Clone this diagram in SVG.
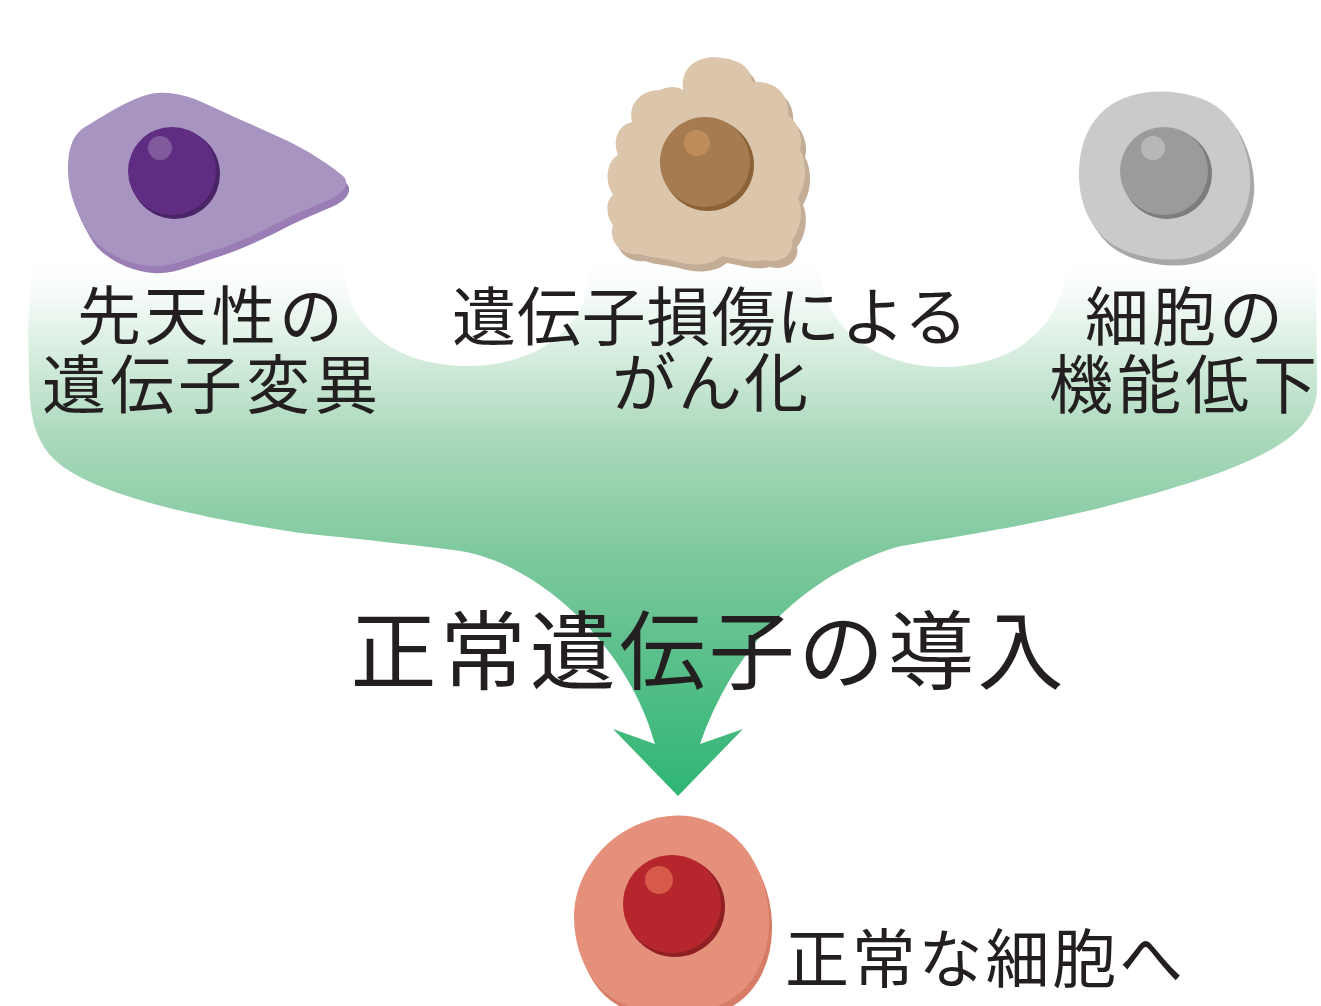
<svg xmlns="http://www.w3.org/2000/svg" width="1321" height="1006" viewBox="0 0 1321 1006">
  <style>
    .lbl { font-family: "Noto Sans CJK JP", "Noto Sans", sans-serif; fill: #231f20; text-anchor: middle; }
    .sm { font-size: 64px; }
    .big { font-size: 86px; }
  </style>
  <defs>
    <linearGradient id="flow" gradientUnits="userSpaceOnUse" x1="0" y1="262" x2="0" y2="796">
      <stop offset="0" stop-color="#ffffff"/>
      <stop offset="0.06" stop-color="#f6fbf8"/>
      <stop offset="0.33" stop-color="#aad9bb"/>
      <stop offset="0.55" stop-color="#7dc89d"/>
      <stop offset="1" stop-color="#2eb573"/>
    </linearGradient>
    <path id="purple-body" d="M157,93 C175,91 195,98 215,108 C240,120 265,130 290,142 C310,152 330,165 343,176 C350,182 345,192 333,198 C315,206 295,214 280,222 C260,232 235,244 215,250 C190,258 170,268 150,266 C125,264 100,250 90,235 C78,215 68,195 68,170 C68,150 72,135 85,127 C105,115 135,95 157,93 Z"/>
    <path id="beige-body" d="M683,90 C680,62 705,55 722,58 C742,60 752,70 752,82 C772,80 790,92 788,115 C800,125 803,140 800,150 C808,165 806,185 798,198 C804,212 800,230 792,240 C795,255 780,264 765,260 C750,264 735,258 722,256 C710,266 690,266 678,262 C665,258 650,258 640,254 C620,256 608,240 613,225 C605,215 606,200 613,195 C603,180 608,160 618,155 C612,140 618,125 632,122 C628,105 640,90 660,90 C668,86 677,86 683,90 Z"/>
    <path id="gray-body" d="M1137.5,94 Q1165,88 1195,96.5 Q1225,105 1238.5,132.5 Q1252,160 1250,187.5 Q1248,215 1229,235 Q1210,255 1185,258.5 Q1160,262 1132.5,253.5 Q1105,245 1091.5,222.5 Q1078,200 1079,170 Q1080,140 1095,120 Q1110,100 1137.5,94 Z"/>
    <path id="red-body" d="M642.5,822.5 Q675,810 705,820 Q735,830 751.5,857.5 Q768,885 769,917.5 Q770,950 755,975 Q740,1000 707.5,1010 Q675,1020 640,1010 Q605,1000 590,975 Q575,950 574,920 Q573,890 591.5,862.5 Q610,835 642.5,822.5 Z"/>
  </defs>

  <!-- merging arrow -->
  <g id="connectors">
    <path fill="url(#flow)" d="M32,268 L345,268 C345,330 400,366 467,366 C534,366 590,330 590,268 L820,268 C822,330 880,367 943,367 C1010,367 1062,330 1066,268 L1316,268 L1317,390 C1315,440 1250,470 1100,508 C1000,532 930,540 897,547 C820,570 740,630 700,744 L743,729 L678,796 L613,729 L655,744 C630,650 540,560 453,550 C380,541 330,536 300,533 C180,515 80,490 50,455 C34,435 30,415 29,380 L28,330 Z"/>
  </g>

  <!-- purple cell -->
  <g id="cell-congenital">
    <use href="#purple-body" fill="#9a7db4" transform="translate(3,7)"/>
    <use href="#purple-body" fill="#a894c0"/>
    <circle cx="175" cy="174" r="45" fill="#4b2468"/>
    <circle cx="172" cy="171" r="44" fill="#5f2d82"/>
    <circle cx="160" cy="148" r="12" fill="#7f5a9d"/>
  </g>

  <!-- beige cell -->
  <g id="cell-cancer">
    <use href="#beige-body" fill="#c3ad96" transform="translate(5,7)"/>
    <use href="#beige-body" fill="#dbc5ab"/>
    <circle cx="708" cy="165" r="46" fill="#8c6336"/>
    <circle cx="705" cy="162" r="45" fill="#a57b4f"/>
    <circle cx="697" cy="143" r="13" fill="#bf8d5b"/>
  </g>

  <!-- gray cell -->
  <g id="cell-decline">
    <use href="#gray-body" fill="#a8a8aa" transform="translate(4,6)"/>
    <use href="#gray-body" fill="#cacacc"/>
    <circle cx="1167" cy="174" r="45" fill="#7d7d7f"/>
    <circle cx="1164" cy="171" r="44" fill="#9b9b9d"/>
    <circle cx="1153" cy="148" r="12" fill="#b7b7b9"/>
  </g>

  <!-- red cell -->
  <g id="cell-normal">
    <use href="#red-body" fill="#d77c66" transform="translate(3,6)"/>
    <use href="#red-body" fill="#e5907a"/>
    <circle cx="675" cy="907" r="50" fill="#8f1f23"/>
    <circle cx="672" cy="904" r="49" fill="#b6272d"/>
    <circle cx="659" cy="880" r="14" fill="#d85a48"/>
  </g>

  <!-- labels -->
  <g id="label-congenital">
    <text class="lbl sm" x="210" y="339" textLength="266" lengthAdjust="spacing">先天性の</text>
    <text class="lbl sm" x="210" y="408" textLength="336" lengthAdjust="spacing">遺伝子変異</text>
  </g>
  <g id="label-cancer">
    <text class="lbl sm" x="710" y="340" textLength="516" lengthAdjust="spacing">遺伝子損傷による</text>
    <text class="lbl sm" x="710" y="406" textLength="196" lengthAdjust="spacing">がん化</text>
  </g>
  <g id="label-decline">
    <text class="lbl sm" x="1184" y="340" textLength="198" lengthAdjust="spacing">細胞の</text>
    <text class="lbl sm" x="1183" y="408" textLength="268" lengthAdjust="spacing">機能低下</text>
  </g>
  <g id="label-transfer">
    <text class="lbl big" x="707" y="683" textLength="713" lengthAdjust="spacing">正常遺伝子の導入</text>
  </g>
  <g id="label-normal">
    <text class="lbl sm" x="984" y="982" textLength="398" lengthAdjust="spacing">正常な細胞へ</text>
  </g>
</svg>
